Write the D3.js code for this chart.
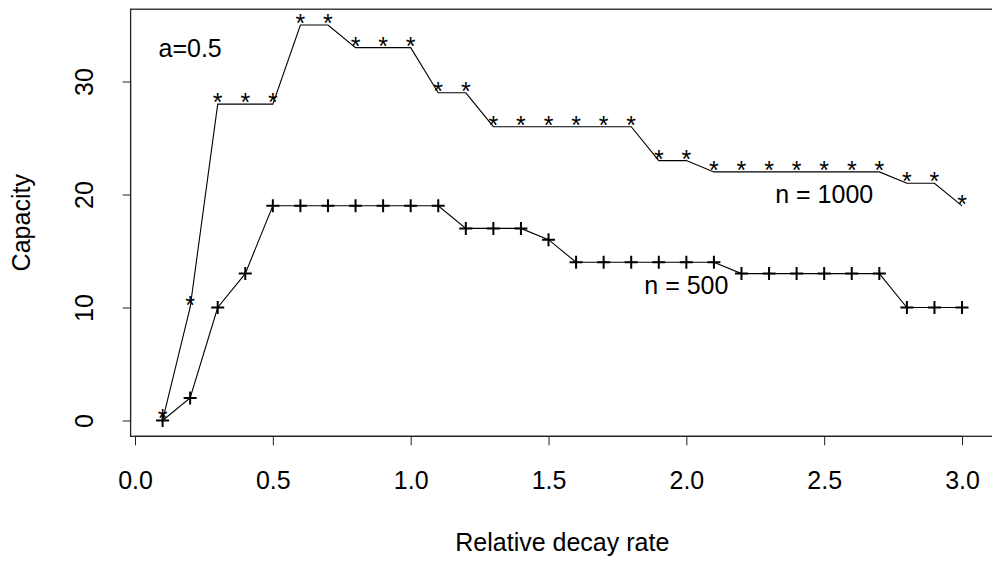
<!DOCTYPE html>
<html>
<head>
<meta charset="utf-8">
<script src="https://cdn.jsdelivr.net/npm/d3@7"></script>
<style>
  body { margin: 0; background: #ffffff; }
  text { font-family: "Liberation Sans", Arial, sans-serif; fill: #000000; }
</style>
</head>
<body>
<div id="container"></div>
<script>
  // decay rates on the x axis
  const rates = [0.1, 0.2, 0.3, 0.4, 0.5, 0.6, 0.7, 0.8, 0.9, 1.0,
    1.1, 1.2, 1.3, 1.4, 1.5, 1.6, 1.7, 1.8, 1.9, 2.0,
    2.1, 2.2, 2.3, 2.4, 2.5, 2.6, 2.7, 2.8, 2.9, 3.0]

  // capacity, n = 1000 (asterisks)
  const cap1000 = [0, 10, 28, 28, 28, 35, 35, 33, 33, 33,
    29, 29, 26, 26, 26, 26, 26, 26, 23, 23,
    22, 22, 22, 22, 22, 22, 22, 21, 21, 19]

  // capacity, n = 500 (plus signs)
  const cap500 = [0, 2, 10, 13, 19, 19, 19, 19, 19, 19,
    19, 17, 17, 17, 16, 14, 14, 14, 14, 14,
    14, 13, 13, 13, 13, 13, 13, 10, 10, 10]

  const xTicks = [0.0, 0.5, 1.0, 1.5, 2.0, 2.5, 3.0]
  const yTicks = [0, 10, 20, 30]

  //initial setup
  const width = 992
  const height = 562
  const margin = { top: 9.2, left: 130.6 }
  const chartWidth = 863.4
  const chartHeight = 427.1
  const fontSize = 25

  const svgContainer = d3.select('#container')
    .append('svg')
    .attr('width', width)
    .attr('height', height)
    .style('background', '#ffffff')

  const chart = svgContainer.append('g')
    .attr('transform', `translate(${margin.left}, ${margin.top})`)

  // R style 4% padding around the data range
  const xScale = d3.scaleLinear()
    .domain([-0.016, 3.116])
    .range([0, chartWidth])

  const yScale = d3.scaleLinear()
    .domain([-1.4, 36.4])
    .range([chartHeight, 0])

  // frame
  chart.append('rect')
    .attr('width', chartWidth)
    .attr('height', chartHeight)
    .attr('fill', 'none')
    .attr('stroke', '#222')
    .attr('stroke-width', 1.3)

  // x axis
  const xAxis = chart.append('g')
    .attr('transform', `translate(0, ${chartHeight})`)
    .call(d3.axisBottom(xScale)
      .tickValues(xTicks)
      .tickSize(9)
      .tickPadding(26)
      .tickSizeOuter(0)
      .tickFormat(d3.format('.1f')))

  xAxis.select('.domain')
    .attr('d', `M${xScale(0)},0H${xScale(3)}`)
    .attr('stroke', '#222')
  xAxis.selectAll('.tick line').attr('stroke', '#222')
  xAxis.selectAll('.tick text')
    .style('font-size', `${fontSize}px`)
    .style('font-family', '"Liberation Sans", Arial, sans-serif')

  // y axis, labels turned to read upwards
  const yAxis = chart.append('g')
    .call(d3.axisLeft(yScale)
      .tickValues(yTicks)
      .tickSize(8)
      .tickSizeOuter(0))

  yAxis.select('.domain')
    .attr('d', `M0,${yScale(0)}V${yScale(30)}`)
    .attr('stroke', '#222')
  yAxis.selectAll('.tick line').attr('stroke', '#222')
  yAxis.selectAll('.tick text')
    .attr('x', null)
    .attr('dy', null)
    .attr('transform', 'translate(-37.6, 0) rotate(-90)')
    .attr('text-anchor', 'middle')
    .style('font-size', `${fontSize}px`)
    .style('font-family', '"Liberation Sans", Arial, sans-serif')

  // series lines
  const line = (values) => d3.line()
    .x((d, i) => xScale(rates[i]))
    .y((d) => yScale(d))(values)

  chart.append('path')
    .attr('d', line(cap1000))
    .attr('fill', 'none')
    .attr('stroke', '#000')
    .attr('stroke-width', 1.1)

  chart.append('path')
    .attr('d', line(cap500))
    .attr('fill', 'none')
    .attr('stroke', '#000')
    .attr('stroke-width', 1.1)

  // asterisk markers
  chart.selectAll('.star')
    .data(cap1000)
    .enter()
    .append('text')
    .attr('class', 'star')
    .attr('x', (d, i) => xScale(rates[i]))
    .attr('y', (d) => yScale(d) + 7)
    .attr('text-anchor', 'middle')
    .style('font-size', `${fontSize}px`)
    .text('*')

  // plus markers
  chart.selectAll('.plus')
    .data(cap500)
    .enter()
    .append('path')
    .attr('class', 'plus')
    .attr('transform', (d, i) => `translate(${xScale(rates[i])}, ${yScale(d)})`)
    .attr('d', 'M-6.5,0H6.5M0,-6.5V6.5')
    .attr('stroke', '#000')
    .attr('stroke-width', 2)

  // annotations
  const notes = [
    { x: 0.2, y: 33, label: 'a=0.5' },
    { x: 2.5, y: 20, label: 'n = 1000' },
    { x: 2.0, y: 12, label: 'n = 500' }
  ]

  chart.selectAll('.note')
    .data(notes)
    .enter()
    .append('text')
    .attr('class', 'note')
    .attr('x', (d) => xScale(d.x))
    .attr('y', (d) => yScale(d.y))
    .attr('dy', '0.36em')
    .attr('text-anchor', 'middle')
    .style('font-size', `${fontSize}px`)
    .text((d) => d.label)

  // axis titles
  svgContainer.append('text')
    .attr('x', margin.left + xScale(1.55))
    .attr('y', 551)
    .attr('text-anchor', 'middle')
    .style('font-size', `${fontSize}px`)
    .text('Relative decay rate')

  svgContainer.append('text')
    .attr('transform', `translate(30, ${margin.top + chartHeight / 2}) rotate(-90)`)
    .attr('text-anchor', 'middle')
    .style('font-size', `${fontSize}px`)
    .text('Capacity')
</script>
</body>
</html>
